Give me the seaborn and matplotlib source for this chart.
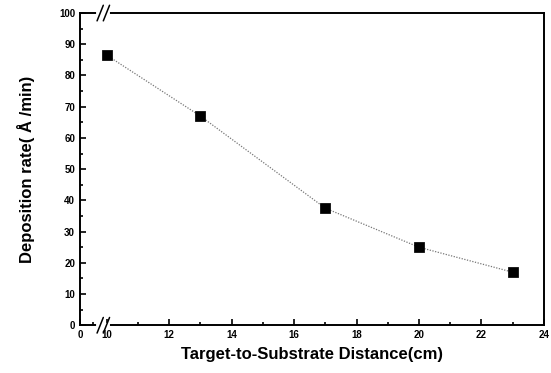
import matplotlib
matplotlib.use("Agg")
import matplotlib.pyplot as plt
import seaborn as sns
import pandas as pd
from matplotlib.ticker import MultipleLocator, FixedLocator

distance = [10, 13, 17, 20, 23]
rate = [86.5, 67, 37.5, 25, 17]
xtick_labels = ["0", "10", "12", "14", "16", "18", "20", "22", "24"]

sns.set_style("ticks")
plt.rcParams['font.family'] = ['Liberation Sans', 'DejaVu Sans']
plt.rcParams['text.color'] = 'black'
plt.rcParams['axes.labelcolor'] = 'black'
plt.rcParams['xtick.color'] = 'black'
plt.rcParams['ytick.color'] = 'black'

df = pd.DataFrame({"d": distance, "r": rate})

fig = plt.figure(figsize=(5.51, 3.73), dpi=100)
ax = fig.add_axes([0.145, 0.128, 0.842, 0.837])

x0 = 9.14  # position where broken axis "0" sits
sns.lineplot(data=df, x="d", y="r", ax=ax, color="#777777", linestyle=(0, (1, 1.2)),
             linewidth=0.9)
sns.scatterplot(data=df, x="d", y="r", ax=ax, marker="s", color="black", s=45,
                edgecolor="black", zorder=5)

ax.set_xlim(x0, 24)
ax.set_ylim(0, 100)
ax.xaxis.set_major_locator(FixedLocator([x0, 10, 12, 14, 16, 18, 20, 22, 24]))
ax.set_xticklabels(xtick_labels, fontweight="bold", fontsize=7)
ax.xaxis.set_minor_locator(FixedLocator([9.55, 11, 13, 15, 17, 19, 21, 23]))
ax.yaxis.set_major_locator(MultipleLocator(10))
ax.yaxis.set_minor_locator(MultipleLocator(5))
for lab in ax.get_yticklabels():
    lab.set_fontweight("bold")
    lab.set_fontsize(7)
ax.tick_params(which="both", direction="in", width=1.2, top=False, right=False)
ax.tick_params(which="major", length=4)
ax.tick_params(which="minor", length=2.5)
for s in ax.spines.values():
    s.set_linewidth(1.4)
    s.set_color("black")

ax.set_xlabel("Target-to-Substrate Distance(cm)", fontweight="bold", fontsize=12, labelpad=5)
ax.set_ylabel("Deposition rate( Å /min)", fontweight="bold", fontsize=12, labelpad=17)

# axis break marks on top and bottom spines
for yb in (0, 100):
    ax.plot([9.72, 10.05], [yb, yb], color="white", linewidth=3, clip_on=False, zorder=6)
    for xb in (9.69, 9.89):
        ax.plot([xb, xb + 0.2], [yb - 2.5, yb + 2.5], color="black", linewidth=1.1,
                clip_on=False, zorder=7)

fig.savefig("out.png", dpi=100)
